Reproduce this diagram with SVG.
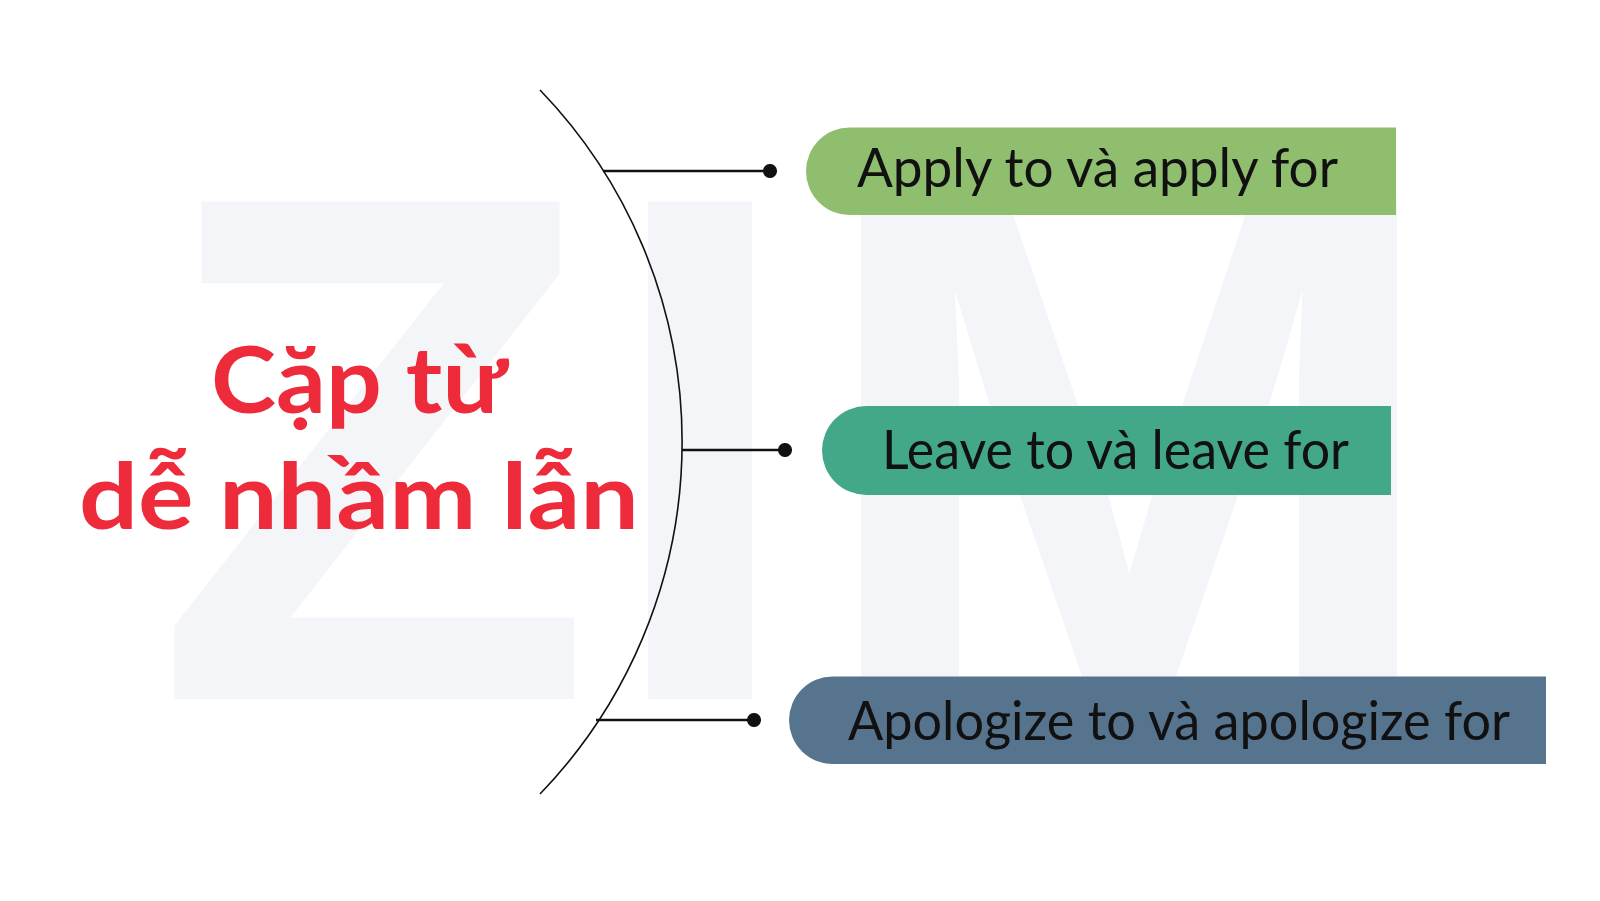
<svg xmlns="http://www.w3.org/2000/svg" width="1600" height="901" viewBox="0 0 1600 901">
<defs>
<marker id="dot" viewBox="0 0 10 10" refX="5" refY="5" markerWidth="5.4" markerHeight="5.4" markerUnits="strokeWidth">
<circle cx="5" cy="5" r="5" fill="#111"/>
</marker>
<style>
.wm{font-family:"Liberation Sans",Arial,sans-serif;font-weight:700;font-size:723px;fill:#f4f5f8;}
.title{font-family:Lato,"Noto Sans",sans-serif;font-weight:700;font-size:92px;fill:#ee2b3b;}
.lbl{font-family:Lato,"Noto Sans",sans-serif;font-weight:400;font-size:54px;fill:#111;}
.conn{stroke:#111;stroke-width:2.6;fill:none;marker-end:url(#dot);}
</style>
</defs>
<rect width="1600" height="901" fill="#ffffff"/>
<g id="watermark">
<text class="wm" x="374" y="699" text-anchor="middle">Z</text>
<text class="wm" x="700" y="699" text-anchor="middle">I</text>
<text class="wm" transform="translate(1129,699) scale(1.06,1)" x="0" y="0" text-anchor="middle">M</text>
</g>
<g id="title">
<text class="title" x="359" y="413" text-anchor="middle" textLength="296" lengthAdjust="spacingAndGlyphs">Cặp từ</text>
<text class="title" x="359" y="529" text-anchor="middle" textLength="560" lengthAdjust="spacingAndGlyphs">dễ nhầm lẫn</text>
</g>
<g id="arc">
<path d="M 540 90 A 507 507 0 0 1 540 794" fill="none" stroke="#111" stroke-width="1.6"/>
</g>
<g id="connectors">
<line class="conn" x1="603" y1="171" x2="770" y2="171"/>
<line class="conn" x1="682" y1="450" x2="785" y2="450"/>
<line class="conn" x1="596" y1="720" x2="754" y2="720"/>
</g>
<g id="node-apply">
<path d="M 849.75 127.5 H 1396 V 215 H 849.75 A 43.75 43.75 0 0 1 849.75 127.5 Z" fill="#8fbe6e"/>
<text class="lbl" x="857" y="187" textLength="481" lengthAdjust="spacingAndGlyphs">Apply to và apply for</text>
</g>
<g id="node-leave">
<path d="M 866.5 406 H 1391 V 495 H 866.5 A 44.5 44.5 0 0 1 866.5 406 Z" fill="#43a789"/>
<text class="lbl" x="882" y="469" textLength="467" lengthAdjust="spacingAndGlyphs">Leave to và leave for</text>
</g>
<g id="node-apologize">
<path d="M 832.75 676.5 H 1546 V 764 H 832.75 A 43.75 43.75 0 0 1 832.75 676.5 Z" fill="#57748f"/>
<text class="lbl" x="848" y="740" textLength="662" lengthAdjust="spacingAndGlyphs">Apologize to và apologize for</text>
</g>
</svg>
